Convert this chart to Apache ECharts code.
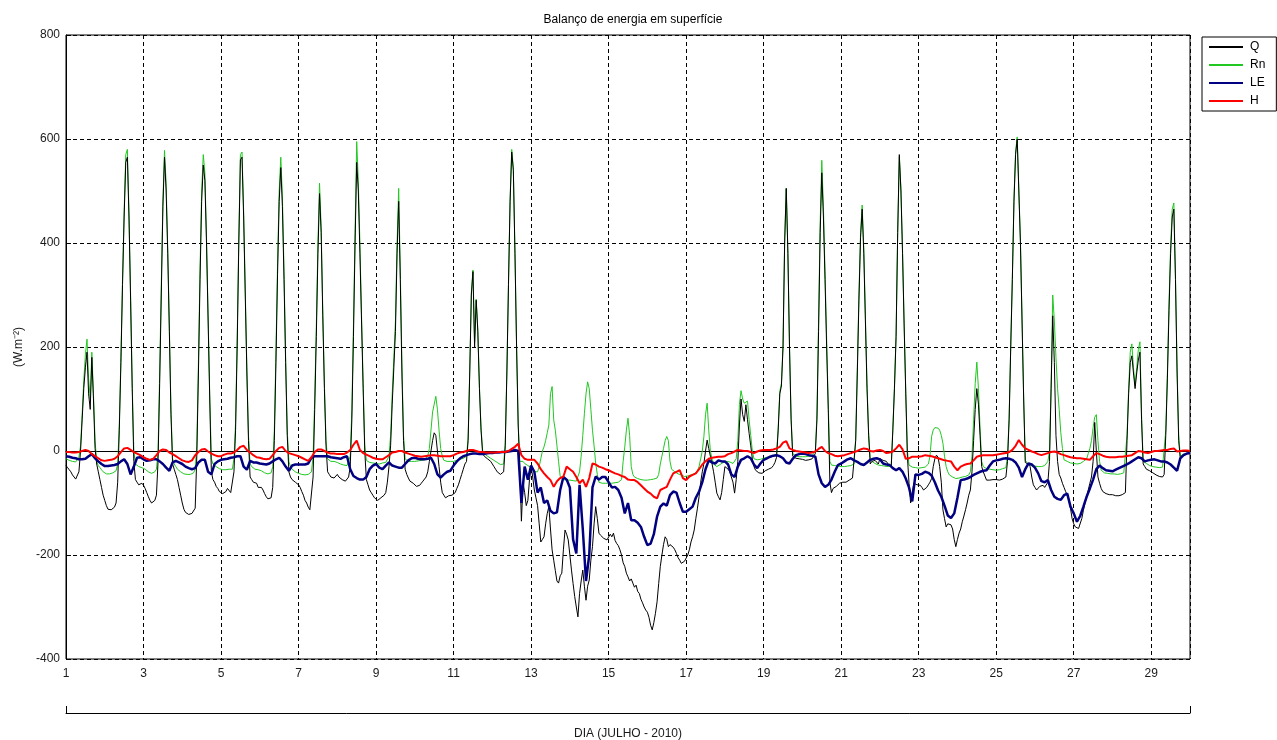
<!DOCTYPE html>
<html>
<head>
<meta charset="utf-8">
<title>Balanço de energia em superfície</title>
<script src="https://cdn.jsdelivr.net/npm/echarts@6/dist/echarts.min.js"></script>
<style>
  html, body { margin: 0; padding: 0; background: #fff; }
  #chart { width: 1277px; height: 740px; }
</style>
</head>
<body>
<div id="chart"></div>
<script>
// Surface energy balance, July 2010 (W.m-2).
// Q and Rn: hourly values, one row per day (00h .. 23h), plus 00h of day 30.
const qHourly = [
  -28, -32, -36, -40, -46, -50, -54, -55, -40, 0, 60, 120, 160, 190, 110, 80, 180, 100, 5, -25, -40, -55, -70, -85,
  -95, -105, -112, -114, -113, -110, -108, -100, -60, 40, 170, 320, 450, 555, 565, 450, 290, 120, -20, -55, -60, -65, -68, -62,
  -66, -72, -80, -88, -95, -100, -98, -95, -85, -20, 130, 300, 470, 565, 500, 380, 230, 70, -25, -35, -45, -55, -70, -85,
  -100, -112, -118, -120, -122, -120, -120, -118, -110, -10, 150, 330, 480, 550, 520, 400, 250, 100, -40, -55, -60, -68, -72, -78,
  -80, -82, -85, -78, -72, -75, -80, -82, -40, 40, 200, 400, 560, 565, 450, 300, 150, 20, -50, -55, -60, -58, -62, -70,
  -68, -70, -75, -82, -88, -92, -93, -90, -70, 20, 170, 340, 480, 545, 470, 330, 170, 30, -40, -50, -55, -58, -60, -62,
  -65, -70, -78, -85, -95, -100, -108, -113, -116, -50, 80, 220, 380, 495, 420, 260, 120, 10, -40, -45, -50, -48, -52, -50,
  -45, -50, -48, -55, -52, -58, -55, -50, -30, 60, 220, 400, 555, 500, 380, 250, 120, 0, -55, -65, -75, -80, -85, -90,
  -92, -95, -96, -90, -88, -85, -80, -60, -30, 10, 90, 160, 230, 380, 480, 330, 150, 20, -35, -45, -52, -58, -60, -62,
  -65, -68, -70, -66, -62, -58, -55, -50, -40, -20, 0, 20, 35, 30, 0, -30, -60, -80, -85, -90, -88, -86, -84, -85,
  -85, -80, -72, -65, -55, -45, -35, -25, -20, 20, 150, 300, 345, 200, 290, 230, 120, 40, -5, -10, -12, -15, -18, -20,
  -25, -30, -35, -40, -42, -45, -48, -40, 10, 150, 320, 480, 575, 540, 380, 200, 50, -30, -135, -60, -80, -105, -95, -55,
  -30, -50, -75, -90, -105, -140, -175, -170, -165, -140, -120, -107, -150, -190, -210, -230, -250, -254, -240, -235, -190, -152, -160, -171,
  -200, -229, -255, -280, -300, -319, -274, -250, -229, -260, -287, -260, -248, -210, -184, -140, -107, -130, -158, -162, -165, -168, -170, -171,
  -170, -160, -165, -158, -172, -178, -182, -190, -200, -215, -222, -235, -242, -250, -246, -254, -262, -258, -270, -274, -285, -292, -300, -306,
  -310, -320, -335, -344, -330, -312, -290, -255, -222, -200, -180, -165, -170, -184, -180, -178, -185, -190, -197, -205, -210, -216, -214, -212,
  -210, -200, -190, -175, -165, -152, -130, -110, -88, -60, -40, -24, 0, 21, 5, -10, -24, -40, -60, -81, -88, -94, -80, -55,
  -30, -28, -35, -40, -43, -60, -81, -55, -20, 50, 100, 70, 57, 89, 60, 34, 10, -15, -30, -37, -40, -42, -43, -43,
  -40, -38, -36, -35, -35, -32, -28, -22, -12, 40, 110, 125, 200, 400, 505, 380, 200, 60, -10, -12, -14, -15, -15, -15,
  -16, -17, -18, -18, -17, -16, -15, -12, -5, 60, 230, 420, 535, 450, 330, 200, 80, -60, -80, -72, -70, -68, -66, -62,
  -62, -60, -62, -60, -58, -56, -55, -52, -50, 20, 150, 290, 410, 465, 380, 250, 120, 30, -25, -20, -17, -18, -20, -25,
  -15, -16, -18, -20, -20, -25, -28, -30, 40, 120, 220, 420, 570, 500, 380, 240, 110, -10, -62, -100, -80, -62, -64, -65,
  -65, -66, -70, -75, -75, -70, -65, -60, -53, -30, -15, -8, -12, -30, -60, -113, -130, -146, -140, -142, -142, -150, -170, -184,
  -170, -158, -150, -136, -125, -113, -100, -85, -75, -40, 20, 80, 120, 90, 30, -30, -40, -48, -56, -55, -56, -54, -55, -56,
  -55, -54, -56, -55, -54, -53, -50, -20, 60, 200, 330, 480, 570, 600, 500, 400, 250, 100, -22, -24, -26, -30, -50, -65,
  -70, -75, -72, -68, -65, -66, -70, -72, -60, -20, 120, 260, 170, 30, -20, -45, -52, -62, -70, -78, -86, -94, -110, -130,
  -140, -146, -148, -149, -149, -130, -114, -100, -88, -75, -62, -50, -20, 55, 0, -50, -62, -72, -78, -80, -82, -84, -84, -84,
  -84, -85, -86, -88, -86, -85, -84, -82, -80, 20, 110, 170, 183, 150, 120, 150, 175, 190, 60, -25, -30, -35, -33, -38,
  -40, -42, -44, -46, -47, -49, -50, -50, -45, 30, 140, 270, 380, 450, 465, 330, 150, 20, -15, -12, -8, -6, -5, -5,
  -5
];

const rnHourly = [
  -15, -17, -18, -19, -20, -20, -21, -21, -12, 10, 70, 135, 185, 215, 140, 100, 190, 110, 20, -20, -28, -32, -36, -40,
  -42, -44, -45, -44, -43, -42, -40, -38, -25, 50, 180, 330, 460, 570, 580, 460, 300, 130, 0, -25, -28, -30, -30, -32,
  -33, -35, -38, -40, -42, -43, -42, -40, -35, 0, 150, 320, 480, 578, 515, 390, 240, 80, -15, -25, -30, -35, -38, -40,
  -42, -44, -45, -45, -46, -45, -44, -42, -35, 10, 170, 350, 500, 570, 535, 410, 260, 110, -15, -25, -28, -30, -32, -34,
  -35, -36, -37, -36, -35, -35, -36, -35, -15, 55, 215, 410, 570, 575, 460, 310, 160, 30, -25, -30, -33, -35, -35, -36,
  -37, -38, -40, -42, -43, -44, -44, -42, -30, 40, 190, 360, 500, 565, 490, 345, 180, 40, -20, -30, -35, -38, -40, -42,
  -43, -44, -45, -45, -46, -46, -45, -44, -40, -10, 100, 240, 400, 515, 430, 270, 130, 20, -15, -18, -20, -18, -20, -22,
  -22, -24, -25, -26, -27, -28, -28, -26, -10, 80, 240, 420, 595, 520, 400, 260, 130, 10, -18, -20, -22, -22, -23, -24,
  -24, -25, -25, -24, -23, -22, -22, -20, -10, 30, 110, 180, 250, 400, 505, 350, 170, 30, -15, -18, -20, -20, -20, -20,
  -20, -20, -19, -19, -18, -18, -17, -16, -10, 5, 40, 75, 90, 105, 80, 40, 5, -10, -18, -20, -20, -22, -20, -20,
  -20, -19, -18, -17, -16, -15, -14, -13, -10, 25, 155, 305, 348, 210, 292, 235, 125, 45, 0, -5, -8, -10, -12, -14,
  -16, -18, -20, -22, -24, -26, -28, -25, 15, 155, 325, 485, 580, 545, 385, 205, 55, -20, -17, -20, -24, -26, -28, -30,
  -32, -36, -40, -43, -40, -30, -15, 0, 8, 20, 35, 50, 110, 124, 60, 40, 10, -20, -49, -52, -55, -56, -56, -56,
  -56, -57, -57, -58, -58, -56, -40, -10, 30, 72, 110, 133, 120, 80, 40, 10, -24, -45, -60, -62, -62, -62, -62, -62,
  -62, -62, -62, -61, -61, -60, -60, -60, -55, -20, 8, 40, 63, 30, -30, -45, -50, -52, -53, -54, -55, -55, -56, -56,
  -56, -56, -55, -55, -54, -54, -52, -45, -25, -10, 5, 20, 28, 20, -20, -35, -38, -40, -42, -44, -45, -46, -48, -49,
  -49, -48, -47, -46, -45, -44, -42, -38, -30, -15, 0, 28, 70, 92, 40, 0, -15, -25, -28, -30, -28, -26, -24, -22,
  -22, -20, -20, -21, -22, -24, -26, -15, 20, 90, 116, 100, 92, 95, 96, 60, 30, 0, -15, -17, -17, -16, -16, -15,
  -14, -13, -12, -12, -12, -11, -10, -10, -5, 45, 115, 130, 205, 405, 505, 385, 205, 65, -5, -8, -10, -11, -11, -11,
  -11, -11, -11, -10, -10, -10, -10, -9, 0, 70, 250, 440, 559, 470, 345, 215, 90, -20, -27, -28, -28, -29, -29, -30,
  -30, -30, -30, -29, -29, -28, -28, -27, -25, 25, 160, 300, 420, 473, 390, 260, 130, 35, -15, -20, -22, -24, -25, -27,
  -28, -28, -29, -29, -30, -30, -30, -28, 45, 125, 225, 420, 565, 505, 385, 245, 115, 0, -27, -30, -31, -32, -32, -33,
  -33, -33, -32, -32, -31, -30, -25, -10, 28, 40, 45, 47, 44, 40, 30, 15, -10, -30, -40, -46, -48, -50, -52, -53,
  -53, -52, -52, -50, -50, -49, -48, -46, -40, -10, 60, 130, 171, 120, 45, -20, -30, -32, -34, -35, -35, -36, -36, -37,
  -37, -36, -36, -35, -34, -33, -32, -10, 65, 205, 335, 485, 575, 604, 505, 405, 255, 105, -18, -20, -26, -28, -28, -29,
  -29, -29, -30, -30, -30, -29, -28, -27, -20, 0, 125, 300, 250, 180, 120, 80, 35, 5, -17, -19, -20, -22, -23, -24,
  -24, -25, -25, -25, -24, -22, -20, -18, -15, -5, 5, 20, 45, 65, 70, 20, -20, -37, -40, -42, -42, -43, -44, -44,
  -44, -44, -45, -45, -44, -44, -43, -42, -40, 30, 120, 190, 206, 160, 125, 160, 195, 210, 70, -20, -22, -24, -26, -28,
  -29, -30, -30, -31, -32, -32, -32, -31, -28, 40, 150, 285, 395, 465, 477, 340, 160, 30, -10, -8, -6, -5, -5, -5,
  -4
];

// LE and H: two-hourly values, one row per day (00h, 02h .. 22h), plus 00h of day 30.
const leTwoHourly = [
  -10, -11, -13, -14, -16, -16, -15, -10, -6, -14, -20, -25,
  -29, -29, -28, -27, -25, -20, -16, -25, -45, -30, -13, -12,
  -16, -19, -18, -16, -16, -20, -25, -32, -38, -22, -19, -22,
  -25, -30, -33, -35, -33, -22, -17, -17, -40, -45, -25, -20,
  -17, -16, -15, -13, -12, -10, -10, -30, -36, -19, -22, -22,
  -24, -25, -26, -24, -20, -16, -13, -20, -30, -38, -28, -26,
  -26, -26, -26, -24, -13, -10, -10, -10, -10, -10, -12, -13,
  -14, -15, -12, -10, -35, -48, -52, -55, -55, -50, -35, -28,
  -25, -32, -35, -28, -22, -28, -30, -32, -32, -25, -18, -14,
  -13, -15, -16, -16, -15, -13, -25, -45, -51, -45, -40, -38,
  -28, -20, -14, -10, -8, -6, -5, -5, -6, -6, -5, -4,
  -4, -3, -3, -2, -2, -1, 0, 2, 0, -100, -30, -55,
  -28, -40, -80, -70, -100, -95, -115, -120, -118, -75, -50, -55,
  -70, -170, -197, -65, -150, -250, -200, -70, -49, -55, -50, -50,
  -60, -70, -69, -75, -90, -120, -100, -133, -133, -138, -146, -165,
  -181, -178, -160, -126, -107, -101, -105, -85, -78, -80, -100, -117,
  -117, -112, -107, -90, -78, -60, -35, -18, -22, -24, -18, -20,
  -20, -26, -45, -50, -30, -17, -14, -10, -14, -26, -33, -24,
  -17, -14, -11, -9, -8, -10, -14, -22, -24, -15, -8, -6,
  -5, -6, -8, -9, -11, -45, -62, -69, -65, -55, -40, -27,
  -24, -20, -16, -14, -18, -21, -25, -27, -22, -17, -15, -14,
  -16, -24, -26, -27, -33, -37, -33, -40, -53, -70, -97, -45,
  -46, -44, -40, -42, -47, -60, -76, -88, -105, -124, -129, -120,
  -90, -56, -55, -53, -50, -46, -43, -40, -38, -37, -28, -20,
  -18, -17, -15, -14, -15, -17, -22, -32, -50, -35, -24, -26,
  -32, -43, -58, -60, -56, -75, -88, -92, -94, -85, -82, -107,
  -120, -136, -125, -107, -88, -72, -55, -35, -28, -33, -37, -38,
  -39, -36, -33, -30, -27, -24, -20, -16, -12, -14, -20, -18,
  -17, -16, -18, -20, -20, -22, -26, -32, -38, -14, -8, -5,
  -4
];

const hTwoHourly = [
  -2, -2, -3, -3, -2, 0, 2, 0, -6, -10, -14, -18,
  -19, -18, -17, -15, -10, -2, 5, 6, 2, -2, -5, -8,
  -12, -15, -17, -15, -8, 0, 3, 2, -3, -6, -10, -14,
  -18, -20, -21, -18, -8, -2, 3, 4, -1, -5, -8, -10,
  -10, -7, -5, -5, -3, 2, 8, 10, 2, -3, -8, -12,
  -13, -15, -16, -15, -8, 0, 6, 8, 0, -4, -6, -8,
  -10, -13, -16, -19, -12, -2, 3, 3, 0, -3, -5, -5,
  -6, -6, -6, -3, 2, 12, 20, 2, -4, -7, -10, -13,
  -15, -16, -16, -12, -8, -3, -2, 0, 0, -3, -5, -7,
  -9, -10, -11, -10, -9, -8, -8, -9, -10, -10, -10, -10,
  -8, -5, -3, -2, 0, 2, 2, 0, -2, -2, -3, -3,
  -3, -3, -2, -2, -2, 0, 4, 8, 14, -8, -15, -17,
  -17, -17, -24, -35, -43, -50, -56, -69, -58, -52, -49, -30,
  -35, -40, -50, -62, -55, -69, -52, -24, -26, -30, -32, -35,
  -37, -40, -43, -45, -48, -50, -55, -56, -56, -60, -66, -72,
  -78, -82, -88, -91, -75, -72, -69, -55, -43, -40, -37, -52,
  -56, -49, -46, -43, -35, -26, -20, -15, -13, -12, -11, -11,
  -10, -6, -4, -1, 2, 1, 0, 0, -2, -4, -1, 1,
  2, 2, 2, 3, 5, 8, 16, 19, 5, 2, 0, -1,
  -2, -3, -4, -3, -1, 4, 8, 0, -4, -6, -9, -10,
  -9, -8, -6, -4, -2, 0, 3, 5, 4, 0, -1, 1,
  2, 0, -4, -3, -1, 5, 12, 3, -15, -14, -11, -11,
  -11, -10, -8, -9, -10, -12, -14, -16, -18, -19, -20, -30,
  -37, -30, -27, -25, -24, -18, -11, -9, -8, -8, -8, -8,
  -7, -6, -5, -4, -2, 2, 10, 21, 12, 5, 2, -1,
  -3, -6, -8, -6, -4, -2, -1, -3, -6, -8, -10, -12,
  -13, -14, -14, -15, -16, -17, -10, -4, -6, -9, -11, -12,
  -12, -12, -11, -11, -10, -9, -8, -4, 0, -1, -3, -4,
  -2, 0, 0, 1, 2, 2, 4, 5, -1, 0, 1, 1,
  0
];

// Axis ticks
const firstDay = 1;
const lastDay = 30;
const dayLabels = [1, 3, 5, 7, 9, 11, 13, 15, 17, 19, 21, 23, 25, 27, 29];
const fluxTicks = [-400, -200, 0, 200, 400, 600, 800];

const seriesNames = ['Q', 'Rn', 'LE', 'H'];

// x values are days elapsed since 00h of the first day
function toPoints(values, stepHours) {
  return values.map((v, i) => [(i * stepHours) / 24, v]);
}

const font = 'Liberation Sans, Arial, Helvetica, sans-serif';
const gridDash = [4, 3];

const chart = echarts.init(document.getElementById('chart'), null, { renderer: 'canvas' });

chart.setOption({
  animation: false,
  backgroundColor: '#ffffff',
  textStyle: { fontFamily: font, color: '#000' },
  title: {
    text: 'Balanço de energia em superfície',
    left: 628,
    top: 9,
    textAlign: 'center',
    textStyle: { fontFamily: font, fontSize: 12, fontWeight: 'normal', color: '#000' }
  },
  legend: {
    data: seriesNames,
    orient: 'vertical',
    left: 1202,
    top: 37,
    padding: [4, 11, 4, 6],
    itemWidth: 34,
    itemHeight: 12,
    itemGap: 6,
    backgroundColor: '#fff',
    borderColor: '#000',
    borderWidth: 1,
    borderRadius: 0,
    // line samples only, no marker in the middle
    itemStyle: { opacity: 0 },
    textStyle: { fontFamily: font, fontSize: 12, color: '#000', padding: [0, 0, 0, 2] }
  },
  grid: {
    left: 66,
    right: 87,
    top: 35,
    bottom: 81,
    containLabel: false,
    outerBoundsMode: 'none',
    show: true,
    borderColor: '#000',
    borderWidth: 1,
    backgroundColor: '#fff'
  },
  xAxis: [
    {
      type: 'value',
      min: 0,
      max: lastDay - firstDay,
      interval: 2,
      axisLine: { show: true, lineStyle: { color: '#000', width: 1 } },
      axisTick: { show: true, inside: true, length: 5, lineStyle: { color: '#000' } },
      axisLabel: {
        margin: 9,
        fontSize: 12,
        color: '#1a1a1a',
        fontFamily: font,
        formatter: (v) => (dayLabels.includes(v + firstDay) ? String(v + firstDay) : '')
      },
      splitLine: { show: true, lineStyle: { color: '#000', type: gridDash, width: 1 } }
    },
    {
      // bracket under the day axis carrying the axis title
      type: 'value',
      min: 0,
      max: lastDay - firstDay,
      interval: lastDay - firstDay,
      position: 'bottom',
      offset: 54,
      axisLine: { show: true, lineStyle: { color: '#000', width: 1 } },
      axisTick: { show: true, inside: true, length: 7, lineStyle: { color: '#000' } },
      axisLabel: { show: false },
      splitLine: { show: false },
      name: 'DIA (JULHO - 2010)',
      nameLocation: 'middle',
      nameGap: 15,
      nameTextStyle: { fontFamily: font, fontSize: 12, color: '#1a1a1a' }
    }
  ],
  yAxis: {
    type: 'value',
    min: fluxTicks[0],
    max: fluxTicks[fluxTicks.length - 1],
    interval: fluxTicks[1] - fluxTicks[0],
    axisLine: { show: true, lineStyle: { color: '#000', width: 1 } },
    axisTick: { show: true, inside: true, length: 5, lineStyle: { color: '#000' } },
    axisLabel: { margin: 6, fontSize: 12, color: '#1a1a1a', fontFamily: font },
    splitLine: { show: true, lineStyle: { color: '#000', type: gridDash, width: 1 } },
    name: '(W.m⁻²)',
    nameLocation: 'middle',
    nameGap: 38,
    nameRotate: 90,
    nameTextStyle: { fontFamily: font, fontSize: 12, color: '#1a1a1a' }
  },
  series: [
    {
      name: 'Q', type: 'line', data: toPoints(qHourly, 1),
      xAxisIndex: 0, yAxisIndex: 0, z: 3,
      symbol: 'none', showSymbol: false, silent: true,
      lineStyle: { color: '#000000', width: 1 }, itemStyle: { color: '#000000' }
    },
    {
      name: 'Rn', type: 'line', data: toPoints(rnHourly, 1),
      xAxisIndex: 0, yAxisIndex: 0, z: 2,
      symbol: 'none', showSymbol: false, silent: true,
      lineStyle: { color: '#22c822', width: 1 }, itemStyle: { color: '#22c822' }
    },
    {
      name: 'LE', type: 'line', data: toPoints(leTwoHourly, 2),
      xAxisIndex: 0, yAxisIndex: 0, z: 4,
      symbol: 'none', showSymbol: false, silent: true,
      lineStyle: { color: '#000080', width: 2.5 }, itemStyle: { color: '#000080' }
    },
    {
      name: 'H', type: 'line', data: toPoints(hTwoHourly, 2),
      xAxisIndex: 0, yAxisIndex: 0, z: 5,
      symbol: 'none', showSymbol: false, silent: true,
      lineStyle: { color: '#ff0000', width: 2 }, itemStyle: { color: '#ff0000' }
    }
  ]
});
</script>
</body>
</html>
